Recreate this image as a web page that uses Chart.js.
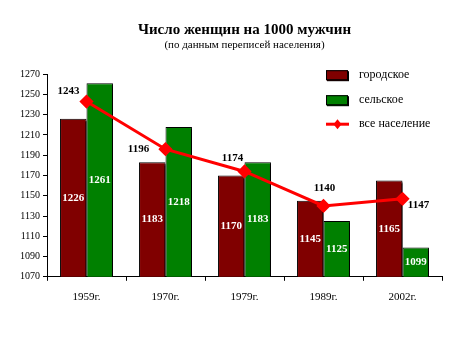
<!DOCTYPE html>
<html>
<head>
<meta charset="utf-8">
<script src="https://cdn.jsdelivr.net/npm/chart.js@4/dist/chart.umd.min.js"></script>
<style>
  html, body { margin: 0; padding: 0; background: #fff; }
  #wrap { width: 453px; height: 338px; }
</style>
</head>
<body>
<div id="wrap"><canvas id="chart" width="453" height="338"></canvas></div>
<script>
const years = ['1959г.', '1970г.', '1979г.', '1989г.', '2002г.'];
const urban = [1226, 1183, 1170, 1145, 1165];
const rural = [1261, 1218, 1183, 1125, 1099];
const total = [1243, 1196, 1174, 1140, 1147];
const yMin = 1070;
const yMax = 1270;
const yStep = 20;

const serif = '"Liberation Serif", "Times New Roman", serif';

// where each total label sits relative to its point (px)
const totalLabelOffsets = [[-18, -10], [-27, 0], [-12, -13], [1, -18], [16, 6]];

const barShadow = {
  id: 'barShadow',
  beforeDatasetDraw(chart, args) {
    const ds = chart.data.datasets[args.index];
    if (ds.type === 'line') return;
    const c = chart.ctx;
    c.save();
    c.shadowColor = '#000';
    c.shadowOffsetX = 2;
    c.shadowOffsetY = 2;
    c.shadowBlur = 0;
  },
  afterDatasetDraw(chart, args) {
    const ds = chart.data.datasets[args.index];
    if (ds.type === 'line') return;
    chart.ctx.restore();
  }
};

const valueLabels = {
  id: 'valueLabels',
  afterDatasetsDraw(chart) {
    const c = chart.ctx;
    const yScale = chart.scales.y;
    c.save();
    c.textAlign = 'center';
    c.textBaseline = 'middle';
    c.font = 'bold 11px ' + serif;
    chart.data.datasets.forEach((ds, i) => {
      const meta = chart.getDatasetMeta(i);
      meta.data.forEach((el, j) => {
        const v = ds.data[j];
        if (ds.type === 'line') {
          c.fillStyle = '#000';
          const [dx, dy] = totalLabelOffsets[j];
          c.fillText(String(v), el.x + dx, el.y + dy);
        } else {
          const top = yScale.getPixelForValue(v);
          const bottom = yScale.getPixelForValue(yMin);
          c.fillStyle = '#fff';
          c.fillText(String(v), el.x, (top + bottom) / 2);
        }
      });
    });
    c.restore();
  }
};

const sideLegend = {
  id: 'sideLegend',
  afterDraw(chart) {
    const c = chart.ctx;
    const area = chart.chartArea;
    const x0 = area.right - 116;
    const rowY = [area.top + 1, area.top + 26, area.top + 50];
    c.save();
    c.font = '12px ' + serif;
    c.textBaseline = 'middle';
    c.textAlign = 'left';
    chart.data.datasets.forEach((ds, i) => {
      const y = rowY[i];
      if (ds.type === 'line') {
        c.strokeStyle = ds.borderColor;
        c.lineWidth = 3;
        c.beginPath();
        c.moveTo(x0, y);
        c.lineTo(x0 + 23, y);
        c.stroke();
        c.fillStyle = ds.borderColor;
        c.beginPath();
        c.moveTo(x0 + 11.5, y - 5);
        c.lineTo(x0 + 15.5, y);
        c.lineTo(x0 + 11.5, y + 5);
        c.lineTo(x0 + 7.5, y);
        c.closePath();
        c.fill();
      } else {
        c.fillStyle = '#000';
        c.fillRect(x0 + 1, y - 4, 22, 10);
        c.fillStyle = ds.backgroundColor;
        c.fillRect(x0, y - 5, 22, 10);
        c.strokeStyle = '#000';
        c.lineWidth = 1;
        c.strokeRect(x0 + 0.5, y - 4.5, 21, 9);
      }
      c.fillStyle = '#000';
      c.fillText(ds.label, x0 + 33, y);
    });
    c.restore();
  }
};

new Chart(document.getElementById('chart'), {
  type: 'bar',
  data: {
    labels: years,
    datasets: [
      {
        label: 'городское',
        data: urban,
        backgroundColor: '#800000',
        borderColor: '#000',
        borderWidth: 1,
        order: 1,
        clip: { left: 5, top: 5, right: 5, bottom: 0 }
      },
      {
        label: 'сельское',
        data: rural,
        backgroundColor: '#008000',
        borderColor: '#000',
        borderWidth: 1,
        order: 1,
        clip: { left: 5, top: 5, right: 5, bottom: 0 }
      },
      {
        type: 'line',
        label: 'все население',
        data: total,
        borderColor: '#ff0000',
        backgroundColor: '#ff0000',
        borderWidth: 3,
        pointStyle: 'rectRot',
        pointRadius: 5,
        pointBackgroundColor: '#ff0000',
        pointBorderColor: '#ff0000',
        tension: 0,
        order: 0
      }
    ]
  },
  options: {
    responsive: false,
    animation: false,
    events: [],
    layout: { padding: { left: 17, right: 11, top: 0, bottom: 24 } },
    datasets: {
      bar: { barPercentage: 1, categoryPercentage: 0.67 }
    },
    scales: {
      x: {
        grid: {
          drawOnChartArea: false,
          drawTicks: true,
          tickLength: 4,
          color: '#000',
          offset: true
        },
        border: { display: true, color: '#000', width: 1 },
        ticks: {
          color: '#000',
          font: { family: serif, size: 11 },
          padding: 10
        }
      },
      y: {
        min: yMin,
        max: yMax,
        grid: {
          drawOnChartArea: false,
          drawTicks: true,
          tickLength: 4,
          color: '#000'
        },
        border: { display: true, color: '#000', width: 1 },
        ticks: {
          stepSize: yStep,
          color: '#000',
          font: { family: serif, size: 10 },
          padding: 3,
          callback: (v) => String(v)
        }
      }
    },
    plugins: {
      legend: { display: false },
      tooltip: { enabled: false },
      title: {
        display: true,
        fullSize: false,
        text: 'Число женщин на 1000 мужчин',
        color: '#000',
        font: { family: serif, size: 15, weight: 'bold' },
        padding: { top: 21, bottom: 0 }
      },
      subtitle: {
        display: true,
        fullSize: false,
        text: '(по данным переписей населения)',
        color: '#000',
        font: { family: serif, size: 11 },
        padding: { top: 0, bottom: 22 }
      }
    }
  },
  plugins: [barShadow, valueLabels, sideLegend]
});
</script>
</body>
</html>
